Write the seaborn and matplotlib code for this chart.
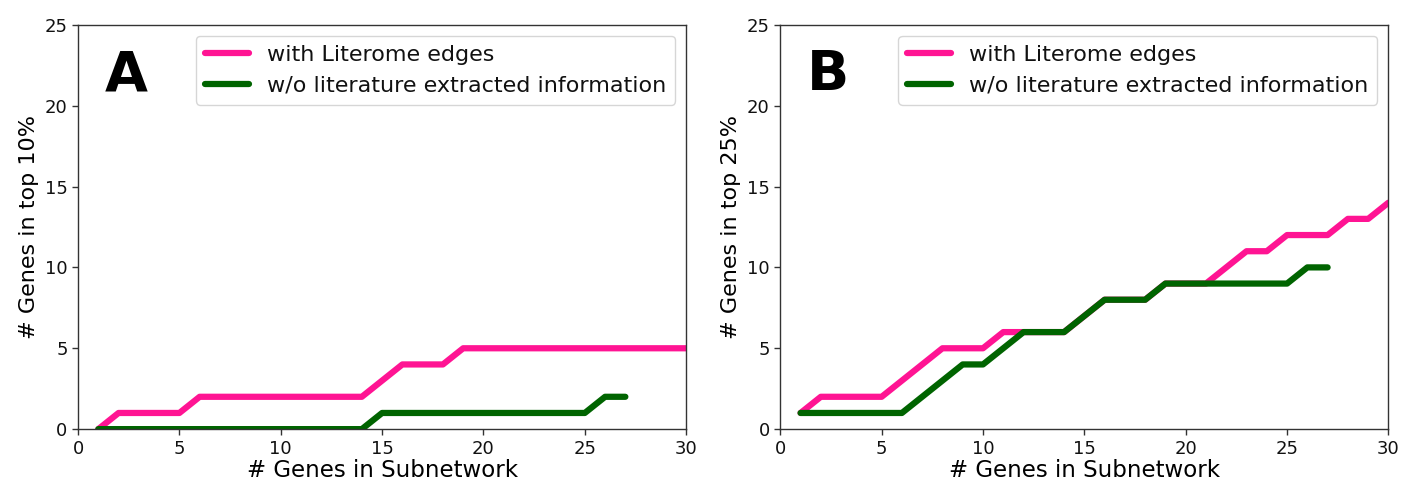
import matplotlib
matplotlib.use("Agg")
import matplotlib.pyplot as plt
import seaborn as sns
import pandas as pd

# Panel A (top 10%)
a_with_x = list(range(1, 31))
a_with_y = [0, 1, 1, 1, 1, 2, 2, 2, 2, 2, 2, 2, 2, 2, 3, 4, 4, 4, 5, 5,
            5, 5, 5, 5, 5, 5, 5, 5, 5, 5]
a_wo_x = list(range(1, 28))
a_wo_y = [0, 0, 0, 0, 0, 0, 0, 0, 0, 0, 0, 0, 0, 0, 1, 1, 1, 1, 1, 1,
          1, 1, 1, 1, 1, 2, 2]

# Panel B (top 25%)
b_with_x = list(range(1, 31))
b_with_y = [1, 2, 2, 2, 2, 3, 4, 5, 5, 5, 6, 6, 6, 6, 7, 8, 8, 8, 9, 9,
            9, 10, 11, 11, 12, 12, 12, 13, 13, 14]
b_wo_x = list(range(1, 28))
b_wo_y = [1, 1, 1, 1, 1, 1, 2, 3, 4, 4, 5, 6, 6, 6, 7, 8, 8, 8, 9, 9,
          9, 9, 9, 9, 9, 10, 10]

series_labels = ["with Literome edges", "w/o literature extracted information"]
panel_letters = ["A", "B"]
ylabels = ["# Genes in top 10%", "# Genes in top 25%"]
xlabel = "# Genes in Subnetwork"
colors = ["#FF1493", "#006400"]

sns.set_style("ticks")
plt.rcParams['font.family'] = ['DejaVu Sans']
plt.rcParams['text.color'] = 'black'
plt.rcParams['axes.labelcolor'] = 'black'

fig = plt.figure(figsize=(14.11, 4.86), dpi=100)
axA = fig.add_axes([0.0553, 0.117, 0.431, 0.832])
axB = fig.add_axes([0.553, 0.117, 0.431, 0.832])

panels = [(axA, a_with_x, a_with_y, a_wo_x, a_wo_y),
          (axB, b_with_x, b_with_y, b_wo_x, b_wo_y)]

for i, (ax, wx, wy, ox, oy) in enumerate(panels):
    df1 = pd.DataFrame({"x": wx, "y": wy})
    df2 = pd.DataFrame({"x": ox, "y": oy})
    sns.lineplot(data=df1, x="x", y="y", ax=ax, color=colors[0], lw=4.5,
                 label=series_labels[0])
    sns.lineplot(data=df2, x="x", y="y", ax=ax, color=colors[1], lw=4.5,
                 label=series_labels[1])
    ax.set_xlim(0, 30)
    ax.set_ylim(0, 25)
    ax.set_xticks([0, 5, 10, 15, 20, 25, 30])
    ax.set_yticks([0, 5, 10, 15, 20, 25])
    ax.tick_params(labelsize=13, length=4, width=1, colors="#333333", labelcolor="#111111")
    ax.set_xlabel(xlabel, fontsize=16.5, labelpad=1)
    ax.set_ylabel(ylabels[i], fontsize=16, labelpad=4)
    for s in ax.spines.values():
        s.set_color("#333333")
        s.set_linewidth(1)
    leg = ax.legend(loc="upper right", fontsize=16, frameon=True,
                    handlelength=2.0)
    leg.get_frame().set_edgecolor("#cccccc")
    for t in leg.get_texts():
        t.set_color("#111111")
    ax.text(0.044, 0.875, panel_letters[i], transform=ax.transAxes,
            fontsize=40, fontweight="bold", va="center", ha="left",
            color="black")

fig.savefig("out.png", dpi=100)
